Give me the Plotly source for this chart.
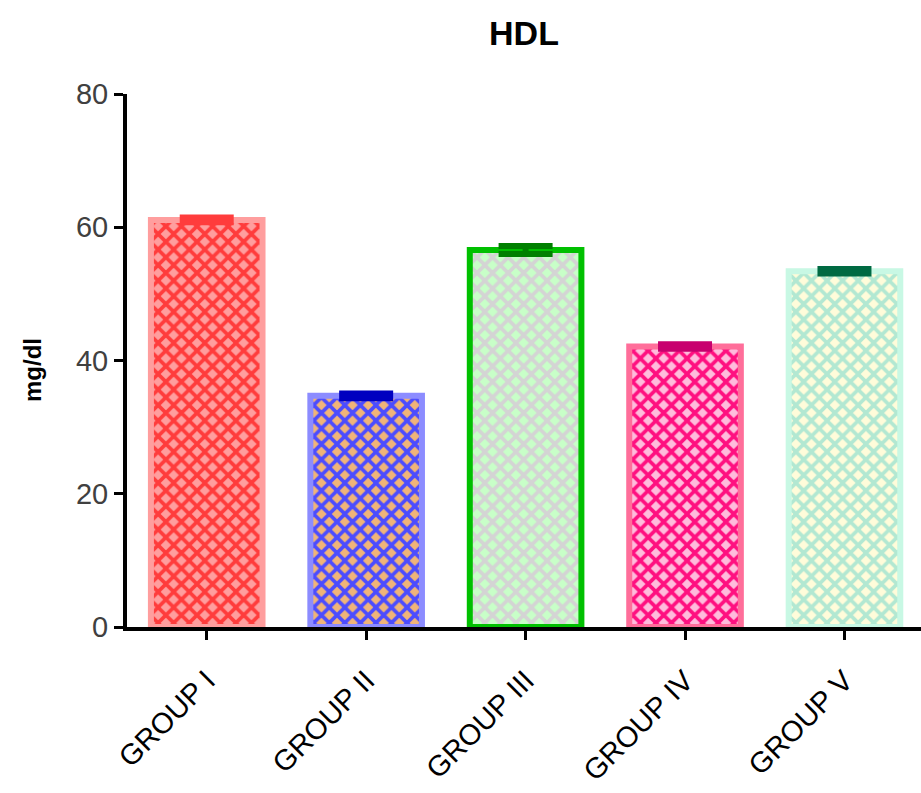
import plotly.graph_objects as go

groups = ["GROUP I", "GROUP II", "GROUP III", "GROUP IV", "GROUP V"]
hdl_mean = [61.1, 34.7, 56.6, 42.1, 53.4]
hdl_err = [0.35, 0.35, 0.6, 0.35, 0.35]

border_colors = ["#FF9E9E", "#8C8CFF", "#00C000", "#FF6E9A", "#C8F8E4"]
fg_colors = ["#FF3C3C", "#4C4CFF", "#D4D4D4", "#FF1080", "#B2E8D2"]
bg_colors = ["#FF9E9E", "#F0B478", "#C8FFC8", "#FFBCDC", "#FFFCDA"]
cap_colors = ["#FF3C3C", "#0000C0", "#008000", "#C8006E", "#006A42"]

fig = go.Figure()
for g, m, e, bc, fc, bgc, cc in zip(groups, hdl_mean, hdl_err, border_colors,
                                     fg_colors, bg_colors, cap_colors):
    fig.add_trace(go.Bar(
        x=[g], y=[m], width=0.7,
        marker=dict(
            color=bgc,
            line=dict(color=bc, width=6),
            pattern=dict(shape="x", fgcolor=fc, bgcolor=bgc, size=11,
                         solidity=0.55, fgopacity=1),
        ),
        error_y=dict(type="data", array=[e], visible=True, color=cc,
                     thickness=6, width=27),
        showlegend=False,
    ))

fig.update_layout(
    width=921, height=793,
    margin=dict(l=127, r=0, t=94, b=166),
    plot_bgcolor="white", paper_bgcolor="white",
    barmode="overlay",
    font=dict(family="Liberation Sans, Arial, sans-serif", color="black"),
    title=dict(text="<b>HDL</b>", x=0.5, xref="paper", xanchor="center",
               y=1 - 33 / 793, yanchor="middle", yref="container",
               font=dict(size=34, color="black")),
    xaxis=dict(
        range=[-0.5, 4.48], showline=True, linecolor="black", linewidth=4,
        ticks="outside", ticklen=9, tickwidth=3, tickcolor="black",
        tickangle=-45, tickfont=dict(size=29, color="black"),
        ticklabelstandoff=12,
        showgrid=False, zeroline=False, automargin=False,
    ),
    yaxis=dict(
        range=[0, 80], tickvals=[0, 20, 40, 60, 80], showline=True,
        linecolor="black", linewidth=4, ticks="outside", ticklen=9,
        tickwidth=3, tickcolor="black",
        tickfont=dict(size=29, color="#404040"),
        showgrid=False, zeroline=False, automargin=False,
    ),
    annotations=[dict(
        text="<b>mg/dl</b>", xref="paper", yref="paper",
        x=(32 - 127) / 794, y=(627 - 370) / 533, xanchor="center",
        yanchor="middle", textangle=-90, showarrow=False,
        font=dict(size=24, color="black"),
    )],
)

fig.write_html("out.html")
